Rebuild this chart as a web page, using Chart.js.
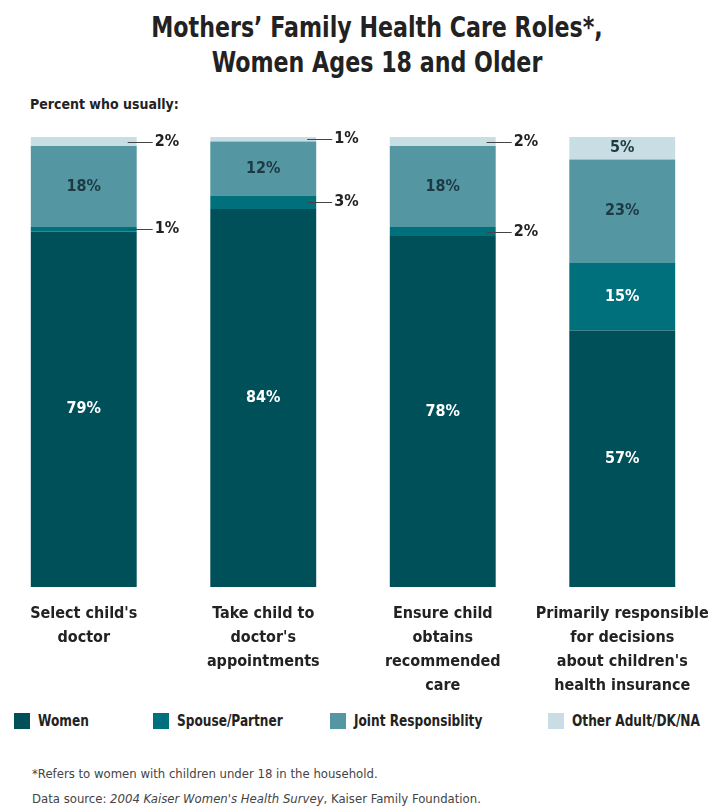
<!DOCTYPE html>
<html>
<head>
<meta charset="utf-8">
<script src="https://cdn.jsdelivr.net/npm/chart.js@4.4.1/dist/chart.umd.min.js"></script>
<style>
  body { margin: 0; background: #fff; width: 708px; height: 806px; position: relative; overflow: hidden;
         font-family: "Liberation Sans Narrow", "Arial Narrow", "DejaVu Sans Condensed", sans-serif; color: #222; }
  #title { position: absolute; top: 10px; left: 0; width: 754px; text-align: center;
           font-size: 29px; font-weight: bold; line-height: 35px; color: #222;
           transform: scaleX(0.85); transform-origin: 377px 0; }
  #subtitle { position: absolute; top: 96px; left: 30px; font-size: 14px; font-weight: bold; }
  #chart { position: absolute; left: -6px; top: 0; }
  .leg { position: absolute; top: 713px; font-size: 15px; font-weight: bold; line-height: 16px; white-space: nowrap; }
  .leg span { position: absolute; left: 0; top: 0; width: 16px; height: 16px; }
  .leg b { position: absolute; top: 0; left: 24px; transform: scaleX(0.9); transform-origin: 0 0; }
  #notes { position: absolute; left: 32px; top: 761px; font-size: 13px; line-height: 25px; color: #444; }
</style>
</head>
<body>
<div id="title">Mothers’ Family Health Care Roles*,<br>Women Ages 18 and Older</div>
<div id="subtitle">Percent who usually:</div>
<canvas id="chart" width="718" height="700"></canvas>
<div id="legend"></div>
<div id="notes">*Refers to women with children under 18 in the household.<br>Data source: <i>2004 Kaiser Women's Health Survey</i>, Kaiser Family Foundation.</div>
<script>
const categories = [
  ["Select child's", "doctor"],
  ["Take child to", "doctor's", "appointments"],
  ["Ensure child", "obtains", "recommended", "care"],
  ["Primarily responsible", "for decisions", "about children's", "health insurance"]
];
const seriesNames = ["Women", "Spouse/Partner", "Joint Responsiblity", "Other Adult/DK/NA"];
const women = [79, 84, 78, 57];
const spouse = [1, 3, 2, 15];
const joint = [18, 12, 18, 23];
const other = [2, 1, 2, 5];

const colors = ["#00505a", "#00707c", "#5496a2", "#c8dee4"];
const labelColors = ["#ffffff", "#ffffff", "#1d3a44", "#1d3a44"];
const FONT = '"Liberation Sans Narrow", "Arial Narrow", "DejaVu Sans Condensed", sans-serif';

// value labels: inside when big enough, otherwise a leader line to the right
const segmentLabels = {
  id: "segmentLabels",
  afterDatasetsDraw(chart) {
    const ctx = chart.ctx;
    ctx.save();
    ctx.font = "bold 16px " + FONT;
    ctx.textBaseline = "middle";
    chart.data.datasets.forEach((ds, i) => {
      const meta = chart.getDatasetMeta(i);
      meta.data.forEach((bar, j) => {
        const v = ds.data[j];
        const cy = (bar.y + bar.base) / 2;
        if (v >= 5) {
          ctx.fillStyle = labelColors[i];
          ctx.textAlign = "center";
          ctx.fillText(v + "%", bar.x, cy);
        } else {
          const right = bar.x + bar.width / 2;
          ctx.strokeStyle = "#444";
          ctx.lineWidth = 1;
          ctx.beginPath();
          ctx.moveTo(right - 9, Math.round(cy) + 0.5);
          ctx.lineTo(right + 16, Math.round(cy) + 0.5);
          ctx.stroke();
          ctx.fillStyle = "#222";
          ctx.textAlign = "left";
          ctx.fillText(v + "%", right + 18, cy);
        }
      });
    });
    ctx.restore();
  }
};

const seriesData = [women, spouse, joint, other];

new Chart(document.getElementById("chart"), {
  type: "bar",
  data: {
    labels: categories,
    datasets: seriesNames.map((name, i) => ({
      label: name,
      data: seriesData[i],
      backgroundColor: colors[i],
      borderWidth: 0,
      categoryPercentage: 1,
      barPercentage: 0.59
    }))
  },
  options: {
    responsive: false,
    animation: false,
    layout: { padding: { top: 137, left: 0, right: 0, bottom: 0 } },
    plugins: { legend: { display: false }, tooltip: { enabled: false } },
    scales: {
      x: {
        stacked: true,
        grid: { display: false },
        border: { display: false },
        ticks: { color: "#222", padding: 7, maxRotation: 0, autoSkip: false,
                 font: { family: FONT, size: 16, weight: "bold", lineHeight: 1.5 } },
        afterFit(scale) {
          scale.height = 113;
          scale.paddingLeft = 0;
          scale.paddingRight = 0;
        }
      },
      y: { stacked: true, display: false, min: 0, max: 100 }
    }
  },
  plugins: [segmentLabels]
});

// legend built from the same series arrays
const legendX = [14, 153, 330, 548];
const legend = document.getElementById("legend");
seriesNames.forEach((name, i) => {
  const item = document.createElement("div");
  item.className = "leg";
  item.style.left = legendX[i] + "px";
  item.innerHTML = '<span style="background:' + colors[i] + '"></span><b>' + name + '</b>';
  legend.appendChild(item);
});
</script>
</body>
</html>
